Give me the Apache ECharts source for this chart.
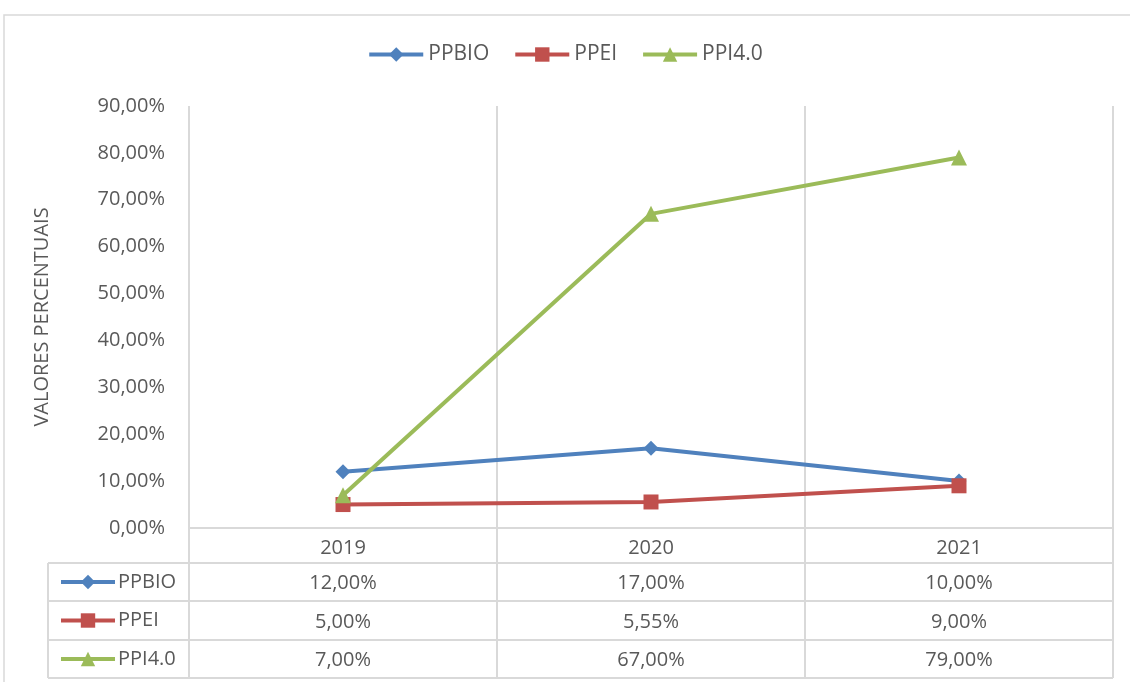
<!DOCTYPE html>
<html>
<head>
<meta charset="utf-8">
<script src="https://cdn.jsdelivr.net/npm/echarts@6/dist/echarts.min.js"></script>
<style>
  html, body { margin: 0; padding: 0; background: #fff; }
  #chart { width: 1130px; height: 682px; }
</style>
</head>
<body>
<div id="chart"></div>
<script>
const years = ['2019', '2020', '2021']
const ppbio = [0.12, 0.17, 0.10]
const ppei = [0.05, 0.0555, 0.09]
const ppi40 = [0.07, 0.67, 0.79]
const seriesNames = ['PPBIO', 'PPEI', 'PPI4.0']
const seriesData = [ppbio, ppei, ppi40]
const colors = ['#4F81BD', '#C0504D', '#9BBB59']
const symbols = ['diamond', 'rect', 'triangle']

const txt = '#595959'
const border = '#d9d9d9'
const font = 'Open Sans'
const fs = 20
const fmt = v => (v * 100).toFixed(2).replace('.', ',') + '%'

// grid box (plot area) and table geometry
const G = { left: 189, right: 17, top: 106, bottom: 154 }
const W = 1130, H = 682
const plotRight = W - G.right
const baseY = H - G.bottom
const rowLines = [563, 601, 640, 678]
const tableLeft = 48

const chart = echarts.init(document.getElementById('chart'))

const colW = (plotRight - G.left) / years.length
const tableLines = []
rowLines.forEach(y => tableLines.push({ type: 'line', shape: { x1: tableLeft, y1: y, x2: plotRight, y2: y }, style: { stroke: border, lineWidth: 2 } }))
tableLines.push({ type: 'line', shape: { x1: tableLeft, y1: rowLines[0], x2: tableLeft, y2: rowLines[3] }, style: { stroke: border, lineWidth: 2 } })
for (let i = 0; i <= years.length; i++) {
  const x = G.left + colW * i
  tableLines.push({ type: 'line', shape: { x1: x, y1: baseY, x2: x, y2: rowLines[3] }, style: { stroke: border, lineWidth: 2 } })
}

const rowOffsets = [35, 74, 112]
const tableAxes = seriesData.map((d, k) => ({
  type: 'category', data: years, position: 'bottom', offset: rowOffsets[k],
  axisLine: { show: false }, axisTick: { show: false }, splitLine: { show: false },
  axisLabel: { color: txt, fontFamily: font, fontSize: fs, margin: 10, formatter: (v, i) => fmt(d[i]) }
}))

const legendText = { color: txt, fontFamily: font, fontSize: fs, padding: [0, 0, 0, -2] }

chart.setOption({
  backgroundColor: '#fff',
  animation: false,
  graphic: [
    { type: 'rect', shape: { x: 4, y: 15, width: 1140, height: 700 }, style: { fill: 'none', stroke: border, lineWidth: 1.5 } },
    ...tableLines
  ],
  legend: [
    {
      top: 44, left: 'center', padding: 0, itemWidth: 54, itemHeight: 18, itemGap: 24,
      data: seriesNames, lineStyle: { width: 4 },
      textStyle: { ...legendText, fontSize: 21, padding: [0, 0, 0, 0] }
    },
    {
      orient: 'vertical', left: 59, top: 572, padding: 0, itemWidth: 54, itemHeight: 18, itemGap: 18.5,
      data: seriesNames, lineStyle: { width: 4 },
      textStyle: legendText
    }
  ],
  grid: { left: G.left, right: G.right, top: G.top, bottom: G.bottom },
  xAxis: [
    {
      type: 'category', data: years, boundaryGap: true,
      axisLine: { lineStyle: { color: border, width: 2 } },
      axisTick: { show: false },
      axisLabel: { color: txt, fontFamily: font, fontSize: fs, margin: 10 },
      splitLine: { show: true, lineStyle: { color: border, width: 2 } }
    },
    ...tableAxes
  ],
  yAxis: {
    type: 'value', min: 0, max: 0.9, interval: 0.1,
    name: 'VALORES PERCENTUAIS', nameLocation: 'middle', nameGap: 137, nameRotate: 90,
    nameTextStyle: { color: txt, fontFamily: font, fontSize: fs },
    axisLine: { show: false }, axisTick: { show: false },
    splitLine: { show: false },
    axisLabel: { color: txt, fontFamily: font, fontSize: fs, margin: 24, formatter: v => fmt(v) }
  },
  series: seriesData.map((d, k) => ({
    name: seriesNames[k], type: 'line', data: d,
    symbol: symbols[k], symbolSize: k === 2 ? 16 : 15,
    lineStyle: { color: colors[k], width: 4 },
    itemStyle: { color: colors[k] },
    z: 3 + k
  }))
})
</script>
</body>
</html>
